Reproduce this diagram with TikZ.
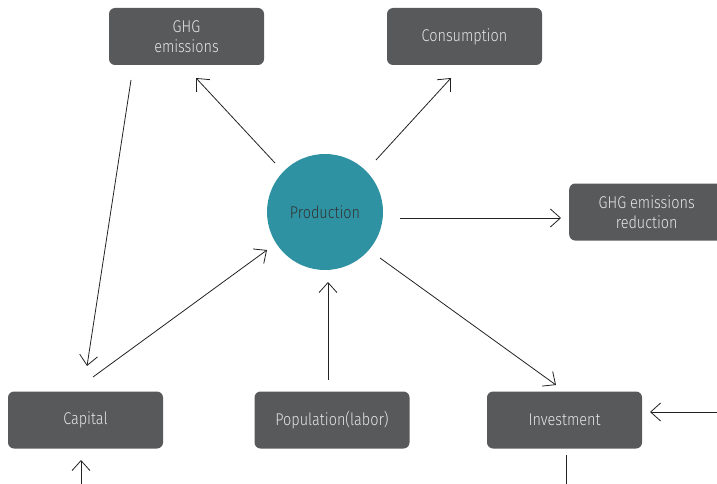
\documentclass[tikz,border=0pt]{standalone}
\usepackage{fontspec}
\setmainfont[FakeStretch=0.85]{Fira Sans Light}
\usetikzlibrary{arrows.meta}
\definecolor{boxgray}{HTML}{58595B}
\definecolor{boxtext}{HTML}{E6E6E6}
\definecolor{teal}{HTML}{2E92A3}
\definecolor{linegray}{HTML}{222222}
\tikzset{
  box/.style={fill=boxgray, rounded corners=6pt, minimum width=155pt, minimum height=57pt,
    text=boxtext, font=\fontsize{17pt}{20pt}\selectfont, align=center, inner sep=0pt},
  conn/.style={draw=linegray, line width=0.8pt, -{Straight Barb[length=10pt,width=18pt,line width=0.8pt]}},
  plain/.style={draw=linegray, line width=0.8pt}
}
\begin{document}
\begin{tikzpicture}[x=1pt,y=-1pt]
\useasboundingbox (0,0) rectangle (717,484);
\node[box] (ghg) at (186.5,36.5) {GHG\\emissions};
\node[box] (cons) at (464.5,36.5) {Consumption};
\node[box, anchor=west] (red) at (569,212) {GHG emissions\\reduction};
\node[box] (cap) at (85.5,420) {Capital};
\node[box] (pop) at (332,420) {Population(labor)};
\node[box] (inv) at (564.5,420) {Investment};
\node[circle, fill=teal, minimum size=116pt, inner sep=0pt, text=black!80, font=\fontsize{17pt}{20pt}\selectfont] (prod) at (325,212) {Production};
\coordinate (ghgS) at (131,80);
\coordinate (capN) at (87,366);
\coordinate (capNE) at (93,377);
\coordinate (prodSW) at (267,250);
\coordinate (prodNW) at (275,163);
\coordinate (ghgSE) at (196,78);
\coordinate (prodNE) at (376,160);
\coordinate (consS) at (451,78);
\coordinate (prodE) at (400,218);
\coordinate (redW) at (561,218);
\coordinate (prodSE) at (380,258);
\coordinate (invNW) at (556,385);
\coordinate (popN) at (328,380);
\coordinate (prodS) at (328,282);
\coordinate (rightIn) at (717,412);
\coordinate (invE) at (650,412);
\coordinate (invS) at (566,455);
\coordinate (bottomOut) at (566,484);
\coordinate (bottomIn) at (81,484);
\coordinate (capS) at (81,460);
\draw[conn] (ghgS) -- (capN);
\draw[conn] (capNE) -- (prodSW);
\draw[conn] (prodNW) -- (ghgSE);
\draw[conn] (prodNE) -- (consS);
\draw[conn] (prodE) -- (redW);
\draw[conn] (prodSE) -- (invNW);
\draw[conn] (popN) -- (prodS);
\draw[conn] (rightIn) -- (invE);
\draw[plain] (invS) -- (bottomOut);
\draw[conn] (bottomIn) -- (capS);
\end{tikzpicture}
\end{document}
